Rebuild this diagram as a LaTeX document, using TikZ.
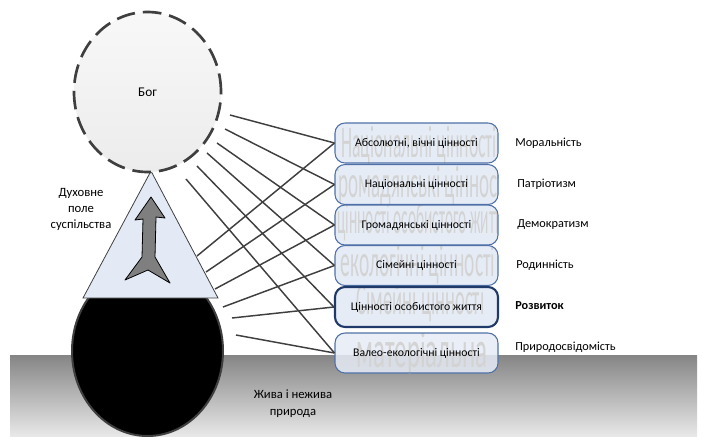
\documentclass[tikz,border=0pt]{standalone}
\usepackage{fontspec}
\setmainfont{Carlito}
\usetikzlibrary{shapes.geometric}
\definecolor{linec}{HTML}{3F3F3F}
\definecolor{boxborder}{HTML}{4F71A8}
\definecolor{boxborderdark}{HTML}{1F3A68}
\definecolor{boxfill}{HTML}{E6ECF6}
\definecolor{trifill}{HTML}{E3EAF6}
\definecolor{ghostc}{HTML}{D3D3D3}
\definecolor{arrowc}{HTML}{7F7F7F}
\definecolor{groundtop}{HTML}{858585}
\definecolor{groundbot}{HTML}{E8E8E8}
\definecolor{bogfilltop}{HTML}{F8F8F8}
\definecolor{bogfillbot}{HTML}{ECECEC}
\tikzset{
  conn/.style={draw=linec, line width=1.1pt},
  valbox/.style={draw=boxborder, line width=0.8pt, rounded corners=7.5pt, fill=boxfill,
    minimum width=122.25pt, minimum height=30pt, inner sep=0pt,
    font=\fontsize{8.8}{10}\selectfont},
  darkbox/.style={draw=boxborderdark, line width=1.6pt},
  ghostpic/.style n args={5}{path picture={
    \node[anchor=base west, inner sep=0pt, text=ghostc, font=\fontsize{34}{34}\selectfont]
      at ([xshift=#1, yshift=#2]path picture bounding box.west) {\scalebox{#3}[#4]{#5}};}},
  lbl/.style={anchor=west, inner sep=0pt, font=\fontsize{9.2}{10}\selectfont},
}
\begin{document}
\begin{tikzpicture}[x=0.75pt,y=-0.75pt]
\useasboundingbox (0,0) rectangle (703,436);
% ground
\shade[top color=groundtop, bottom color=groundbot] (10,355) rectangle (697,436);
% earth
\node[ellipse, draw=linec, line width=1.5pt, fill=black, minimum width=113.25pt,
  minimum height=127.5pt, inner sep=0pt] (earth) at (147.5,351) {};
% triangle
\coordinate (apex) at (151,171);
\coordinate (bl) at (83,298);
\coordinate (br) at (218,298);
\draw[draw=linec, line width=0.6pt, fill=trifill] (apex) -- (br) -- (bl) -- cycle;
% arrow
\draw[fill=arrowc, draw=black, line width=0.6pt, line join=round]
  (151,197) -- (165,218) -- (156,217) -- (155,257) -- (170,283) -- (148,270)
  -- (125,280) -- (142,257) -- (143,219) -- (135,220) -- cycle;
% god
\node[ellipse, draw=linec, line width=2pt, dash pattern=on 14pt off 6pt,
  top color=bogfilltop, bottom color=bogfillbot, minimum width=110.25pt,
  minimum height=120pt, inner sep=0pt, font=\fontsize{10}{12}\selectfont] (bog) at (147.5,92) {Бог};
% side texts
\node[align=center, font=\fontsize{9.5}{12}\selectfont] (dukh) at (81,209) {Духовне\\поле\\суспільства};
\node[align=center, font=\fontsize{9.5}{12.5}\selectfont] (zhyva) at (293,404) {Жива і нежива\\природа};
% boxes
\node[valbox, ghostpic={1.5pt}{-10.5pt}{0.39}{1}{Національні цінності}] (b1) at (416.5,143) {Абсолютні, вічні цінності};
\node[valbox, ghostpic={-3pt}{-10.1pt}{0.42}{1}{Громадянські цінності}] (b2) at (416.5,184.5) {Національні цінності};
\node[valbox, ghostpic={1.5pt}{-6pt}{0.34}{1}{цінності особистого життя}] (b3) at (416.5,225) {Громадянські цінності};
\node[valbox, ghostpic={0.75pt}{-8.6pt}{0.43}{1}{екологічні цінності}] (b4) at (416.5,265.5) {Сімейні цінності};
\node[valbox, darkbox, ghostpic={2.25pt}{-5.3pt}{0.41}{1}{Сімейні цінності}] (b5) at (416.5,307) {Цінності особистого життя};
\node[valbox, fill opacity=0.85, text opacity=1, ghostpic={3.75pt}{-10.5pt}{0.55}{1.15}{матеріальна}] (b6) at (416.5,353) {Валео-екологічні цінності};
% right labels
\node[lbl] (m1) at (515,143) {Моральність};
\node[lbl] (m2) at (517,184) {Патріотизм};
\node[lbl] (m3) at (517,225) {Демократизм};
\node[lbl] (m4) at (516,265) {Родинність};
\node[lbl, font=\fontsize{9.2}{10}\selectfont\bfseries] (m5) at (515,306) {Розвиток};
\node[lbl] (m6) at (515,347) {Природосвідомість};
% connector start points
\coordinate (u1) at (230,115);
\coordinate (u2) at (225,129);
\coordinate (u3) at (217,143);
\coordinate (u4) at (207,153);
\coordinate (u5) at (197,166);
\coordinate (u6) at (186,179);
\coordinate (l1) at (197,256);
\coordinate (l2) at (206,272);
\coordinate (l3) at (215,289);
\coordinate (l4) at (223,307);
\coordinate (l5) at (232,318);
\coordinate (l6) at (236,335);
\draw[conn] (u1) -- (b1.west);
\draw[conn] (u2) -- (b2.west);
\draw[conn] (u3) -- (b3.west);
\draw[conn] (u4) -- (b4.west);
\draw[conn] (u5) -- (b5.west);
\draw[conn] (u6) -- (b6.west);
\draw[conn] (l1) -- (b1.west);
\draw[conn] (l2) -- (b2.west);
\draw[conn] (l3) -- (b3.west);
\draw[conn] (l4) -- (b4.west);
\draw[conn] (l5) -- (b5.west);
\draw[conn] (l6) -- (b6.west);
\end{tikzpicture}
\end{document}
